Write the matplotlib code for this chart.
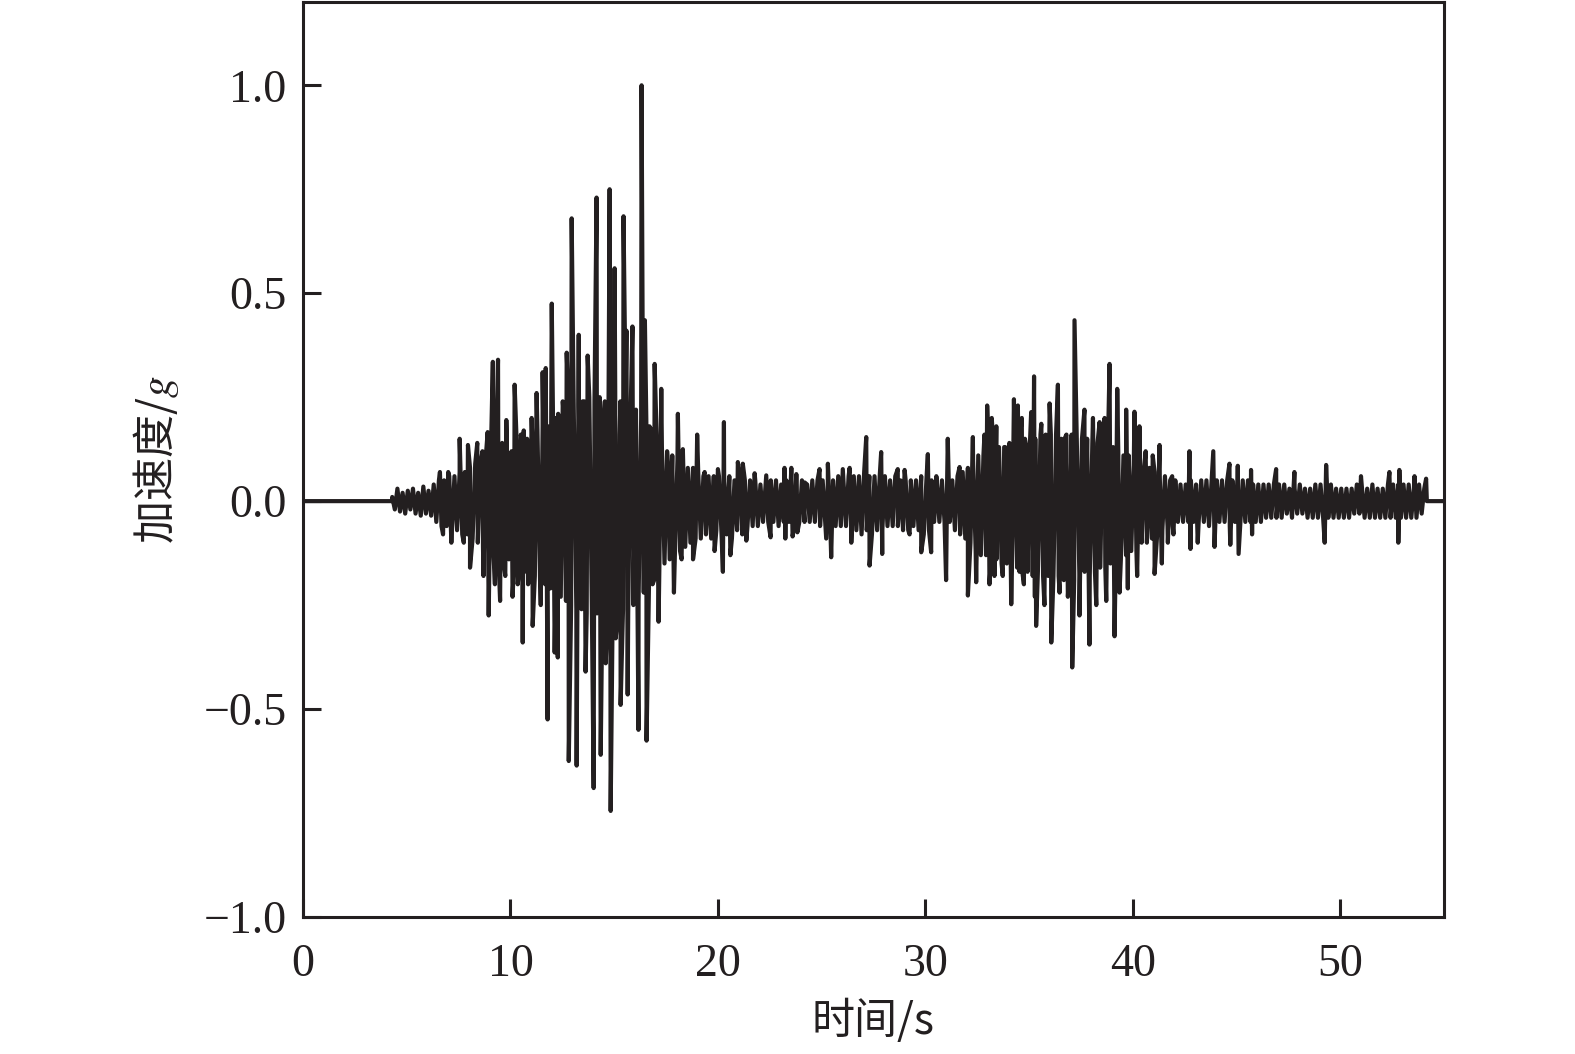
import numpy as np
import matplotlib
matplotlib.use("Agg")
import matplotlib.pyplot as plt

# ---------------- data ----------------
# background oscillation: 8 extremes per second, starting at t = 4.3 s
bg_start = 4.3
bg_step = 0.125
bg_rows = [
    [0.01, -0.02, 0.03, -0.025, 0.02, -0.03, 0.025, -0.02],
    [0.03, -0.03, 0.02, -0.035, 0.035, -0.03, 0.025, -0.035],
    [0.04, -0.05, 0.05, -0.06, 0.05, -0.06, 0.06, -0.07],
    [0.06, -0.07, 0.07, -0.08, 0.07, -0.08, 0.08, -0.09],
    [0.09, -0.1, 0.09, -0.11, 0.1, -0.11, 0.1, -0.12],
    [0.12, -0.14, 0.11, -0.15, 0.13, -0.14, 0.12, -0.15],
    [0.14, -0.16, 0.14, -0.17, 0.15, -0.17, 0.15, -0.18],
    [0.17, -0.19, 0.18, -0.2, 0.18, -0.21, 0.2, -0.22],
    [0.21, -0.23, 0.22, -0.24, 0.23, -0.25, 0.22, -0.26],
    [0.23, -0.26, 0.24, -0.27, 0.25, -0.27, 0.24, -0.27],
    [0.25, -0.27, 0.24, -0.28, 0.25, -0.27, 0.26, -0.28],
    [0.24, -0.26, 0.25, -0.27, 0.23, -0.25, 0.22, -0.24],
    [0.2, -0.22, 0.19, -0.21, 0.17, -0.19, 0.15, -0.17],
    [0.13, -0.15, 0.12, -0.14, 0.11, -0.13, 0.1, -0.12],
    [0.09, -0.11, 0.08, -0.1, 0.08, -0.09, 0.07, -0.09],
    [0.06, -0.08, 0.06, -0.09, 0.06, -0.07, 0.06, -0.08],
    [0.06, -0.08, 0.06, -0.09, 0.05, -0.07, 0.06, -0.08],
    [0.05, -0.06, 0.05, -0.06, 0.05, -0.06, 0.04, -0.05],
    [0.04, -0.05, 0.05, -0.05, 0.05, -0.06, 0.04, -0.05],
    [0.05, -0.05, 0.05, -0.06, 0.04, -0.05, 0.05, -0.05],
    [0.04, -0.05, 0.05, -0.05, 0.05, -0.06, 0.05, -0.05],
    [0.05, -0.07, 0.05, -0.06, 0.06, -0.06, 0.05, -0.06],
    [0.06, -0.06, 0.06, -0.07, 0.06, -0.08, 0.07, -0.07],
    [0.06, -0.08, 0.06, -0.07, 0.06, -0.07, 0.06, -0.06],
    [0.05, -0.06, 0.06, -0.06, 0.05, -0.07, 0.05, -0.07],
    [0.05, -0.06, 0.05, -0.07, 0.06, -0.08, 0.05, -0.07],
    [0.05, -0.05, 0.05, -0.05, 0.05, -0.05, 0.05, -0.05],
    [0.05, -0.07, 0.06, -0.08, 0.07, -0.09, 0.08, -0.1],
    [0.1, -0.12, 0.11, -0.13, 0.11, -0.13, 0.12, -0.13],
    [0.12, -0.14, 0.13, -0.15, 0.13, -0.15, 0.14, -0.16],
    [0.14, -0.16, 0.15, -0.17, 0.15, -0.17, 0.15, -0.18],
    [0.15, -0.17, 0.16, -0.18, 0.16, -0.18, 0.16, -0.18],
    [0.16, -0.18, 0.15, -0.19, 0.16, -0.18, 0.16, -0.19],
    [0.15, -0.18, 0.15, -0.17, 0.15, -0.18, 0.14, -0.17],
    [0.14, -0.16, 0.14, -0.16, 0.13, -0.15, 0.13, -0.15],
    [0.12, -0.14, 0.11, -0.13, 0.11, -0.12, 0.1, -0.12],
    [0.09, -0.1, 0.08, -0.09, 0.08, -0.09, 0.07, -0.08],
    [0.06, -0.07, 0.06, -0.06, 0.05, -0.06, 0.05, -0.05],
    [0.04, -0.05, 0.04, -0.05, 0.05, -0.05, 0.04, -0.05],
    [0.05, -0.05, 0.05, -0.06, 0.05, -0.05, 0.05, -0.05],
    [0.05, -0.05, 0.05, -0.06, 0.05, -0.05, 0.05, -0.06],
    [0.05, -0.05, 0.05, -0.05, 0.04, -0.05, 0.04, -0.05],
    [0.04, -0.04, 0.04, -0.04, 0.04, -0.04, 0.04, -0.04],
    [0.04, -0.03, 0.03, -0.04, 0.03, -0.03, 0.04, -0.03],
    [0.03, -0.04, 0.03, -0.04, 0.04, -0.04, 0.04, -0.04],
    [0.04, -0.04, 0.04, -0.04, 0.03, -0.04, 0.03, -0.04],
    [0.03, -0.04, 0.03, -0.03, 0.04, -0.03, 0.03, -0.04],
    [0.03, -0.04, 0.04, -0.04, 0.03, -0.04, 0.03, -0.04],
    [0.04, -0.04, 0.04, -0.04, 0.04, -0.04, 0.04, -0.04],
    [0.04, -0.04, 0.03, -0.04, 0.04, -0.03, 0.03, 0.0],
]

# prominent peaks: times (s) and accelerations (g)
peak_t = [
    6.3, 6.6, 6.75, 7.0, 7.15, 7.55, 7.75, 7.95, 8.05, 8.4, 8.65, 8.7, 8.9,
    8.95, 9.15, 9.25, 9.4, 9.5, 9.6, 9.75, 9.8, 10.1, 10.2, 10.35,
    10.5, 10.59, 10.64, 10.85, 11.02, 11.07, 11.26, 11.46, 11.55, 11.7,
    11.79, 11.99, 12.13, 12.18, 12.28, 12.52, 12.71, 12.81, 12.95, 13.19,
    13.29, 13.48, 13.62, 13.72, 14.01, 14.15, 14.35, 14.49, 14.59, 14.78,
    14.83, 15.02, 15.07, 15.26, 15.31, 15.45, 15.59, 15.65, 15.88, 16.17,
    16.32, 16.48, 16.56, 16.7, 16.85, 16.95, 17.14, 17.27,
    17.59, 17.88, 18.07, 18.25, 18.31, 18.8, 19.0, 19.36, 19.84, 20.0,
    20.24, 20.29, 20.6, 20.96, 21.2, 21.37, 21.77, 22.33, 22.54, 23.21,
    23.25, 23.54, 23.6,
    23.78, 23.83, 24.18, 24.9, 25.22, 25.3, 25.46, 26.02, 26.35, 26.43,
    27.15, 27.31, 27.87, 27.92, 28.67, 29.0, 29.24, 29.8, 30.12, 30.28,
    30.53,
    31.0, 31.08, 31.65, 32.05, 32.29, 32.45, 32.85, 32.98, 33.09, 33.2,
    33.33, 33.42, 33.73, 33.85, 34.14, 34.27, 34.46, 34.54, 34.65, 34.75,
    34.86, 35.1, 35.24, 35.28, 35.34, 35.59, 35.74, 35.99, 36.07, 36.39,
    36.47, 36.71, 36.87, 37.08, 37.19,
    37.43, 37.67, 37.91, 38.08, 38.24, 38.4, 38.64, 38.72, 38.88, 39.12,
    39.25, 39.36, 39.68, 39.76, 40.08, 40.21, 40.32, 40.62, 40.68, 40.96,
    41.05, 41.29, 41.4, 41.69, 41.9, 41.96, 42.73, 42.78, 43.13, 43.88,
    43.94,
    44.66, 44.7, 45.06, 45.1, 45.7, 45.75, 46.91, 47.79, 49.25, 49.32,
    51.0, 52.37, 52.8, 52.85, 53.58, 54.14,
]
peak_a = [
    0.04, 0.07, -0.08, 0.07, -0.1, 0.15, -0.1, 0.135, -0.16, 0.14, 0.12,
    -0.18, 0.166, -0.275, 0.335, -0.2, 0.34, -0.24, 0.14, -0.18, 0.195,
    -0.23, 0.28, -0.2,
    0.16, -0.34, 0.17, -0.2, 0.2, -0.3, 0.26, -0.25, 0.31, 0.32,
    -0.525, 0.475, -0.364, 0.2, -0.376, 0.24, 0.357, -0.625, 0.68, -0.636,
    0.4, 0.24, -0.41, 0.35, -0.69, 0.73, -0.61, 0.2, -0.39, 0.75,
    -0.745, 0.56, -0.33, 0.16, -0.49, 0.685, 0.41, -0.465, 0.42, -0.55,
    1.0, 0.435, -0.576, 0.18, -0.2, 0.33, -0.29, 0.27,
    0.094, -0.22, 0.21, -0.14, 0.125, -0.14, 0.16, 0.07, -0.12, 0.077,
    -0.17, 0.19, -0.13, 0.094, 0.09, -0.095, 0.067, 0.062, -0.087, 0.08,
    -0.09, 0.08, -0.085,
    0.065, -0.075, 0.045, 0.077, -0.09, 0.09, -0.135, 0.077, 0.08, -0.1,
    0.154, -0.155, 0.118, -0.127, 0.077, 0.075, -0.08, -0.123, 0.113,
    -0.123, 0.06,
    -0.19, 0.15, 0.082, -0.227, 0.154, -0.195, 0.16, 0.23, -0.2, 0.2,
    -0.18, 0.18, -0.18, 0.13, -0.248, 0.245, 0.23, -0.17, 0.2, -0.2,
    0.134, 0.214, 0.3, -0.23, -0.3, 0.186, -0.25, 0.235, -0.34, 0.28,
    -0.22, 0.15, -0.23, -0.4, 0.435,
    -0.275, 0.22, -0.345, 0.2, -0.25, 0.19, 0.2, -0.24, 0.33, -0.325,
    0.27, -0.22, 0.22, -0.21, 0.215, -0.18, 0.18, 0.12, -0.1, 0.11,
    -0.175, 0.135, -0.15, -0.1, 0.06, -0.08, 0.12, -0.115, -0.1, 0.12,
    -0.11,
    0.09, -0.105, 0.085, -0.127, 0.075, -0.08, 0.077, 0.07, -0.1, 0.087,
    0.06, 0.07, -0.1, 0.075, 0.06, 0.054,
]

# quiet record before and after the motion
lead_t, lead_a = [0.0, 4.29], [0.0, 0.0]
tail_t, tail_a = [55.0], [0.0]

x_ticks = [0, 10, 20, 30, 40, 50]
y_ticks = [-1.0, -0.5, 0.0, 0.5, 1.0]
x_label = "时间/s"
y_label = "加速度/$g$"

# ---------------- assemble series ----------------
bg_a = np.concatenate([np.array(r, dtype=float) for r in bg_rows])
bg_t = bg_start + bg_step * np.arange(len(bg_a))
t_all = np.concatenate([lead_t, bg_t, np.array(peak_t), tail_t])
a_all = np.concatenate([lead_a, bg_a, np.array(peak_a), tail_a])
order = np.argsort(t_all, kind="stable")
t_all, a_all = t_all[order], a_all[order]

# ---------------- styling ----------------
plt.rcParams["font.family"] = ["Liberation Serif", "Noto Sans CJK SC", "DejaVu Sans"]
plt.rcParams["mathtext.fontset"] = "stix"
ink = "#231f20"

fig = plt.figure(figsize=(15.75, 10.54), dpi=100)
ax = fig.add_axes([0.1924, 0.130, 0.7244, 0.868])

ax.plot(t_all, a_all, color=ink, lw=3.0, solid_joinstyle="round")

ax.set_xlim(0, 55)
ax.set_ylim(-1.0, 1.2)
ax.set_xticks(x_ticks)
ax.set_yticks(y_ticks)
ax.set_yticklabels([f"{v:.1f}".replace("-", "\u2212") for v in y_ticks])
ax.tick_params(direction="in", length=13, width=2.2, colors=ink,
               labelsize=33, pad=12, top=False, right=False)
ax.tick_params(axis="x", pad=19)
for sp in ax.spines.values():
    sp.set_linewidth(2.2)
    sp.set_color(ink)

cjk = ["Noto Sans CJK SC", "Liberation Serif", "DejaVu Sans"]
ax.set_xlabel(x_label, fontsize=31, color=ink, family=cjk, labelpad=10)
ax.set_ylabel(y_label, fontsize=31, color=ink, family=cjk, labelpad=16)

fig.savefig("out.png", dpi=100, facecolor="white")
